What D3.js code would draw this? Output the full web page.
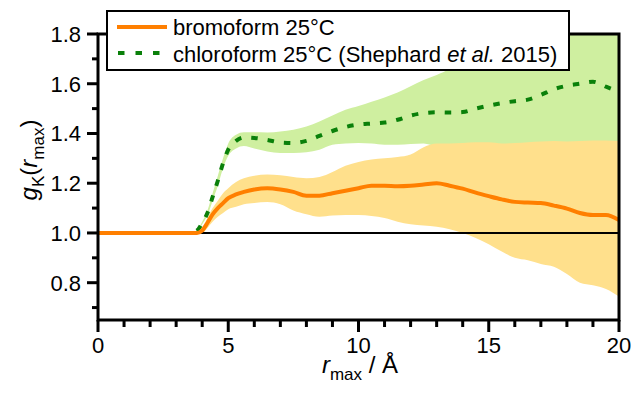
<!DOCTYPE html>
<html>
<head>
<meta charset="utf-8">
<script src="https://cdn.jsdelivr.net/npm/d3@7"></script>
<style>
  body { margin: 0; background: #ffffff; }
  text { font-family: "Liberation Sans", Arial, sans-serif; fill: #000000; }
</style>
</head>
<body>
<svg id="chart" width="637" height="396"></svg>
<script>
// r_max values (Angstrom) shared by every series
var r_values = [0, 1, 2, 3, 3.5, 3.8, 4.0, 4.2, 4.4, 4.6, 4.8, 5.0, 5.3, 5.6, 6.0, 6.5, 7.0, 7.5, 8.0, 8.5,
    9.0, 9.5, 10.0, 10.5, 11.0, 11.5, 12.0, 12.5, 13.0, 13.5, 14.0, 14.5, 15.0, 15.5, 16.0, 16.5, 17.0, 17.5,
    18.0, 18.5, 19.0, 19.5, 20.0];

// bromoform 25C - mean and uncertainty band
var bromo_mean = [1.0, 1.0, 1.0, 1.0, 1.0, 1.0, 1.01, 1.04, 1.075, 1.10, 1.12, 1.14, 1.155, 1.165, 1.175, 1.18,
    1.175, 1.165, 1.15, 1.15, 1.16, 1.17, 1.18, 1.19, 1.19, 1.188, 1.19, 1.195, 1.2, 1.19, 1.178, 1.162, 1.148,
    1.135, 1.125, 1.122, 1.12, 1.11, 1.098, 1.08, 1.072, 1.072, 1.052];
var bromo_upper = [1.0, 1.0, 1.0, 1.0, 1.0, 1.0, 1.02, 1.06, 1.10, 1.13, 1.16, 1.18, 1.205, 1.22, 1.23, 1.235,
    1.232, 1.225, 1.22, 1.225, 1.245, 1.27, 1.285, 1.295, 1.30, 1.305, 1.315, 1.345, 1.36, 1.36, 1.362, 1.365,
    1.365, 1.36, 1.362, 1.365, 1.368, 1.37, 1.368, 1.37, 1.372, 1.372, 1.37];
var bromo_lower = [1.0, 1.0, 1.0, 1.0, 1.0, 1.0, 1.0, 1.02, 1.045, 1.065, 1.08, 1.095, 1.105, 1.115, 1.12, 1.124,
    1.115, 1.09, 1.075, 1.065, 1.07, 1.072, 1.072, 1.068, 1.06, 1.045, 1.035, 1.03, 1.025, 1.015, 1.0, 0.98,
    0.955, 0.925, 0.90, 0.89, 0.875, 0.864, 0.835, 0.80, 0.79, 0.775, 0.744];

// chloroform 25C (Shephard et al. 2015) - mean and uncertainty band
var chloro_mean = [1.0, 1.0, 1.0, 1.0, 1.0, 1.01, 1.04, 1.08, 1.145, 1.21, 1.28, 1.335, 1.37, 1.384, 1.382, 1.374,
    1.364, 1.362, 1.37, 1.39, 1.41, 1.426, 1.436, 1.44, 1.444, 1.455, 1.472, 1.482, 1.485, 1.484, 1.486, 1.5,
    1.512, 1.522, 1.53, 1.536, 1.555, 1.578, 1.592, 1.6, 1.608, 1.588, 1.568];
var chloro_upper = [1.0, 1.0, 1.0, 1.0, 1.0, 1.01, 1.045, 1.09, 1.16, 1.23, 1.30, 1.36, 1.395, 1.405, 1.405, 1.404,
    1.408, 1.415, 1.428, 1.448, 1.472, 1.495, 1.51, 1.528, 1.545, 1.565, 1.59, 1.615, 1.635, 1.66, 1.70, 1.74,
    1.78, 1.82, 1.85, 1.87, 1.89, 1.91, 1.93, 1.95, 1.96, 1.95, 1.94];
var chloro_lower = [1.0, 1.0, 1.0, 1.0, 1.0, 1.0, 1.035, 1.07, 1.13, 1.19, 1.26, 1.31, 1.34, 1.35, 1.34, 1.328,
    1.322, 1.322, 1.325, 1.335, 1.355, 1.36, 1.362, 1.36, 1.355, 1.355, 1.358, 1.36, 1.35, 1.35, 1.35, 1.35,
    1.35, 1.35, 1.35, 1.35, 1.35, 1.35, 1.35, 1.35, 1.35, 1.35, 1.35];

// axis ticks
var x_major_ticks = [0, 5, 10, 15, 20];
var x_minor_ticks = [1, 2, 3, 4, 6, 7, 8, 9, 11, 12, 13, 14, 16, 17, 18, 19];
var y_major_ticks = [0.8, 1.0, 1.2, 1.4, 1.6, 1.8];
var y_minor_ticks = [0.7, 0.9, 1.1, 1.3, 1.5, 1.7];

var legend_labels = ["bromoform 25°C", "chloroform 25°C (Shephard "];

// colours
var bromo_line_color = "#ff7f00";
var bromo_band_color = "#ffe08c";
var chloro_line_color = "#0a800a";
var chloro_band_color = "#cfefa0";

var plot_left = 98, plot_right = 619, plot_top = 34, plot_bottom = 320;

var svg = d3.select("#chart");

var x_scale = d3.scaleLinear().domain([0, 20]).range([plot_left, plot_right]);
var y_scale = d3.scaleLinear().domain([0.65, 1.8]).range([plot_bottom, plot_top]);

// clip everything to the frame
svg.append("clipPath").attr("id", "plot-clip")
    .append("rect")
    .attr("x", plot_left).attr("y", plot_top)
    .attr("width", plot_right - plot_left).attr("height", plot_bottom - plot_top);

var plot_group = svg.append("g").attr("clip-path", "url(#plot-clip)");

function make_band(lower, upper) {
    return d3.area()
        .curve(d3.curveMonotoneX)
        .x(function (d, i) { return x_scale(r_values[i]); })
        .y0(function (d, i) { return y_scale(lower[i]); })
        .y1(function (d, i) { return y_scale(upper[i]); });
}

var line_gen = d3.line()
    .curve(d3.curveMonotoneX)
    .x(function (d, i) { return x_scale(r_values[i]); })
    .y(function (d) { return y_scale(d); });

// bands - chloroform under bromoform
plot_group.append("path")
    .datum(r_values)
    .attr("d", make_band(chloro_lower, chloro_upper))
    .attr("fill", chloro_band_color);

plot_group.append("path")
    .datum(r_values)
    .attr("d", make_band(bromo_lower, bromo_upper))
    .attr("fill", bromo_band_color);

// reference line at g = 1
plot_group.append("line")
    .attr("x1", x_scale(0)).attr("x2", x_scale(20))
    .attr("y1", y_scale(1)).attr("y2", y_scale(1))
    .attr("stroke", "#000").attr("stroke-width", 2);

plot_group.append("path")
    .datum(chloro_mean)
    .attr("d", line_gen)
    .attr("fill", "none")
    .attr("stroke", chloro_line_color)
    .attr("stroke-width", 4)
    .attr("stroke-dasharray", "6.5,10");

plot_group.append("path")
    .datum(bromo_mean)
    .attr("d", line_gen)
    .attr("fill", "none")
    .attr("stroke", bromo_line_color)
    .attr("stroke-width", 4);

// frame
svg.append("rect")
    .attr("x", plot_left).attr("y", plot_top)
    .attr("width", plot_right - plot_left).attr("height", plot_bottom - plot_top)
    .attr("fill", "none").attr("stroke", "#000").attr("stroke-width", 3);

// x axis
var x_axis = svg.append("g").attr("transform", "translate(0," + plot_bottom + ")");
x_axis.selectAll(".x-major").data(x_major_ticks).enter().append("line")
    .attr("x1", function (d) { return x_scale(d); }).attr("x2", function (d) { return x_scale(d); })
    .attr("y1", 0).attr("y2", 12)
    .attr("stroke", "#000").attr("stroke-width", 3);
x_axis.selectAll(".x-minor").data(x_minor_ticks).enter().append("line")
    .attr("x1", function (d) { return x_scale(d); }).attr("x2", function (d) { return x_scale(d); })
    .attr("y1", 0).attr("y2", 7)
    .attr("stroke", "#000").attr("stroke-width", 3);
x_axis.selectAll(".x-label").data(x_major_ticks).enter().append("text")
    .attr("x", function (d) { return x_scale(d); })
    .attr("y", 33)
    .attr("text-anchor", "middle")
    .style("font-size", "22px")
    .text(function (d) { return d; });

// y axis
var y_axis = svg.append("g").attr("transform", "translate(" + plot_left + ",0)");
y_axis.selectAll(".y-major").data(y_major_ticks).enter().append("line")
    .attr("x1", 0).attr("x2", -11)
    .attr("y1", function (d) { return y_scale(d); }).attr("y2", function (d) { return y_scale(d); })
    .attr("stroke", "#000").attr("stroke-width", 3);
y_axis.selectAll(".y-minor").data(y_minor_ticks).enter().append("line")
    .attr("x1", 0).attr("x2", -6)
    .attr("y1", function (d) { return y_scale(d); }).attr("y2", function (d) { return y_scale(d); })
    .attr("stroke", "#000").attr("stroke-width", 3);
y_axis.selectAll(".y-label").data(y_major_ticks).enter().append("text")
    .attr("x", -17)
    .attr("y", function (d) { return y_scale(d) + 8; })
    .attr("text-anchor", "end")
    .style("font-size", "22px")
    .text(function (d) { return d3.format(".1f")(d); });

// axis titles
var x_title = svg.append("text")
    .attr("x", 360).attr("y", 373)
    .attr("text-anchor", "middle")
    .style("font-size", "24px");
x_title.append("tspan").style("font-style", "italic").text("r");
x_title.append("tspan").attr("dy", 7).style("font-size", "17px").text("max");
x_title.append("tspan").attr("dy", -7).text(" / Å");

var y_title = svg.append("text")
    .attr("transform", "translate(37,160) rotate(-90)")
    .attr("text-anchor", "middle")
    .style("font-size", "24px");
y_title.append("tspan").style("font-style", "italic").text("g");
y_title.append("tspan").attr("dy", 7).style("font-size", "17px").text("K");
y_title.append("tspan").attr("dy", -7).text("(");
y_title.append("tspan").style("font-style", "italic").text("r");
y_title.append("tspan").attr("dy", 7).style("font-size", "17px").text("max");
y_title.append("tspan").attr("dy", -7).text(")");

// legend
var legend = svg.append("g");
legend.append("rect")
    .attr("x", 107).attr("y", 11).attr("width", 462).attr("height", 59)
    .attr("fill", "#fff").attr("stroke", "#000").attr("stroke-width", 2);
legend.append("line")
    .attr("x1", 117).attr("x2", 167).attr("y1", 27).attr("y2", 27)
    .attr("stroke", bromo_line_color).attr("stroke-width", 4);
legend.append("line")
    .attr("x1", 118).attr("x2", 167).attr("y1", 53).attr("y2", 53)
    .attr("stroke", chloro_line_color).attr("stroke-width", 4)
    .attr("stroke-dasharray", "6.5,11");
legend.append("text")
    .attr("x", 173).attr("y", 35)
    .style("font-size", "22px")
    .text(legend_labels[0]);
var chloro_legend = legend.append("text")
    .attr("x", 173).attr("y", 62)
    .style("font-size", "22px");
chloro_legend.append("tspan").text(legend_labels[1]);
chloro_legend.append("tspan").style("font-style", "italic").text("et al.");
chloro_legend.append("tspan").text(" 2015)");
</script>
</body>
</html>
